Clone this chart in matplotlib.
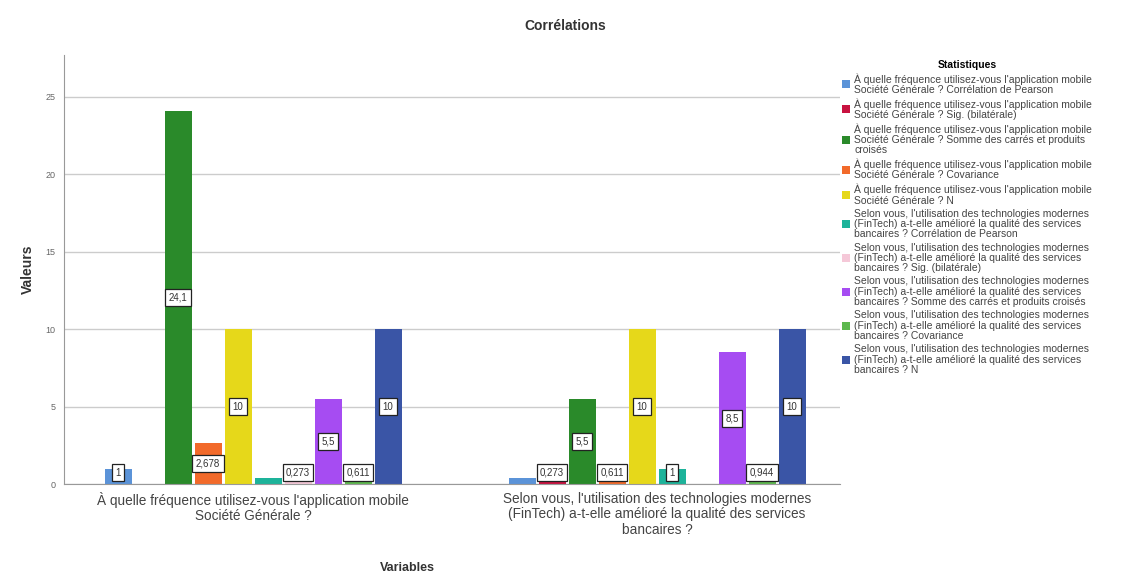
import matplotlib
matplotlib.use("Agg")
from matplotlib import pyplot as plt
import numpy as np

plt.rcParams['font.family'] = ['Liberation Sans', 'DejaVu Sans']

variables = ["À quelle fréquence utilisez-vous l'application mobile\nSociété Générale ?",
             "Selon vous, l'utilisation des technologies modernes\n(FinTech) a-t-elle amélioré la qualité des services\nbancaires ?"]

q1 = "À quelle fréquence utilisez-vous l'application mobile\nSociété Générale ? "
q2 = "Selon vous, l'utilisation des technologies modernes\n(FinTech) a-t-elle amélioré la qualité des services\nbancaires ? "
series_names = [q1 + "Corrélation de Pearson",
                q1 + "Sig. (bilatérale)",
                q1 + "Somme des carrés et produits\ncroisés",
                q1 + "Covariance",
                q1 + "N",
                q2 + "Corrélation de Pearson",
                q2 + "Sig. (bilatérale)",
                q2 + "Somme des carrés et produits croisés",
                q2 + "Covariance",
                q2 + "N"]

# one row per series, one column per variable (nan = empty cell)
values = [[1, 0.384],
          [np.nan, 0.273],
          [24.1, 5.5],
          [2.678, 0.611],
          [10, 10],
          [0.384, 1],
          [0.273, np.nan],
          [5.5, 8.5],
          [0.611, 0.944],
          [10, 10]]

colors = ['#5b93d8', '#c81240', '#2a8a2a', '#f26a2a', '#e6d81a',
          '#1db39a', '#f5c8d8', '#a64cf2', '#5db84e', '#3a55a6']

# labels SPSS did not draw (series, variable)
hidden_labels = {(5, 0), (0, 1)}

fig = plt.figure(figsize=(11.26, 5.83), dpi=100)
ax = fig.add_axes([64/1126, 1-484/583, (840-64)/1126, (484-55)/583])

x = np.arange(len(variables))
slot = 30/404
width = 27/404
n = len(series_names)
for i in range(n):
    pos = x + (i - (n-1)/2) * slot
    vals = np.array(values[i], dtype=float)
    ax.bar(pos, np.nan_to_num(vals), width, color=colors[i], label=series_names[i], zorder=2)
    for j, v in enumerate(vals):
        if np.isnan(v) or (i, j) in hidden_labels:
            continue
        txt = f"{v:g}".replace('.', ',')
        ax.text(pos[j], max(v/2, 0.72), txt, ha='center', va='center', fontsize=7,
                color='#333333', zorder=4,
                bbox=dict(boxstyle='square,pad=0.35', fc='white', ec='#222222', lw=0.9))

ax.set_xlim(-189/404, -189/404 + 776/404)
ax.set_ylim(0, 27.7)
ax.set_yticks([0, 5, 10, 15, 20, 25])
ax.set_xticks(x)
ax.set_xticklabels(variables, fontsize=9.8, color='#444444', linespacing=1.1)
ax.tick_params(axis='y', length=0, labelsize=6.5, labelcolor='#666666', pad=6)
ax.tick_params(axis='x', length=0, pad=6)
ax.yaxis.grid(True, color='#cccccc', lw=1, zorder=0)
ax.set_axisbelow(True)
for s in ['top', 'right']:
    ax.spines[s].set_visible(False)
for s in ['left', 'bottom']:
    ax.spines[s].set_color('#999999')

ax.set_ylabel("Valeurs", fontsize=10, fontweight='bold', color='#333333', labelpad=8)
fig.text(407/1126, 1-568/583, "Variables", ha='center', va='center', fontsize=9,
         fontweight='bold', color='#333333')
fig.text(565/1126, 1-26/583, "Corrélations", ha='center', va='center', fontsize=10,
         fontweight='bold', color='#333333')

leg = fig.legend(loc='upper left', bbox_to_anchor=(842/1126, 1-60/583), frameon=False,
                 title="Statistiques", fontsize=7.5, title_fontproperties={'weight': 'bold', 'size': 7.5},
                 handlelength=0.8, handleheight=0.8, handletextpad=0.4, labelspacing=0.3,
                 borderpad=0, borderaxespad=0)
for t in leg.get_texts():
    t.set_linespacing(1.05)
    t.set_color('#444444')

fig.savefig("out.png", dpi=100)
